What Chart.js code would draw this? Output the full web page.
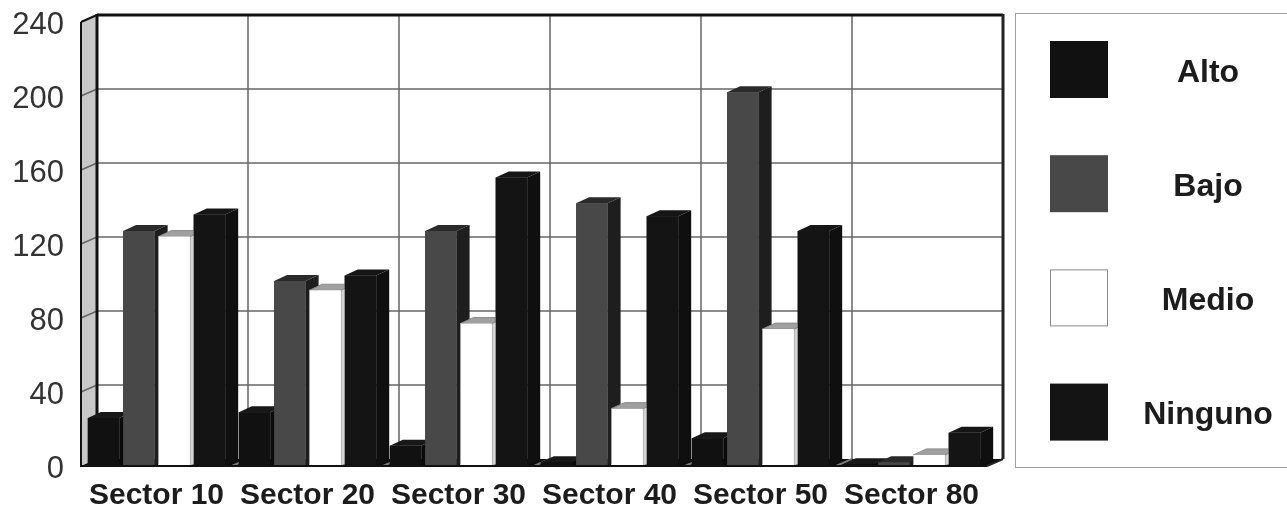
<!DOCTYPE html>
<html>
<head>
<meta charset="utf-8">
<title>Sectores</title>
<script src="https://cdn.jsdelivr.net/npm/chart.js@4/dist/chart.umd.js"></script>
<style>
  html, body { margin: 0; padding: 0; background: #fff; overflow: hidden; }
  canvas { display: block; }
</style>
</head>
<body>
<canvas id="sectorChart" width="1287" height="507"></canvas>
<script>
const sectores = ['Sector 10', 'Sector 20', 'Sector 30', 'Sector 40', 'Sector 50', 'Sector 80'];
const alto = [26, 29, 11, 2, 15, 1];
const bajo = [127, 100, 127, 142, 202, 2];
const medio = [124, 95, 77, 31, 74, 6];
const ninguno = [136, 103, 156, 135, 127, 18];

const yMax = 240;
const yStep = 40;

// front, side and top shades of each series
const frontColors = ['#111111', '#484848', '#ffffff', '#141414'];
const sideColors = ['#0a0a0a', '#1e1e1e', '#d4d4d4', '#0f0f0f'];
const topColors = ['#181818', '#2a2a2a', '#a0a0a0', '#161616'];

const wallDx = 16, wallDy = -7;
const barDx = 13, barDy = -6;

function poly(ctx, pts, fill, stroke, lw) {
  ctx.beginPath();
  pts.forEach((p, i) => i ? ctx.lineTo(p[0], p[1]) : ctx.moveTo(p[0], p[1]));
  ctx.closePath();
  if (fill) { ctx.fillStyle = fill; ctx.fill(); }
  if (stroke) { ctx.strokeStyle = stroke; ctx.lineWidth = lw || 1; ctx.stroke(); }
}

function line(ctx, x1, y1, x2, y2, color, lw) {
  ctx.beginPath();
  ctx.moveTo(x1, y1);
  ctx.lineTo(x2, y2);
  ctx.strokeStyle = color;
  ctx.lineWidth = lw;
  ctx.stroke();
}

// walls, floor and grid of the 3D box
const boxPlugin = {
  id: 'box3d',
  beforeDatasetsDraw(chart) {
    const ctx = chart.ctx, a = chart.chartArea, xs = chart.scales.x, ys = chart.scales.y;
    ctx.save();
    poly(ctx, [[a.left, a.top], [a.left + wallDx, a.top + wallDy], [a.left + wallDx, a.bottom + wallDy], [a.left, a.bottom]], '#c8c8c8');
    poly(ctx, [[a.left, a.bottom], [a.left + wallDx, a.bottom + wallDy], [a.right + wallDx, a.bottom + wallDy], [a.right, a.bottom]], '#0c0c0c');

    for (let v = yStep; v < yMax; v += yStep) {
      const y = ys.getPixelForValue(v);
      line(ctx, a.left, y, a.left + wallDx, y + wallDy, '#666', 1.5);
      line(ctx, a.left + wallDx, y + wallDy, a.right + wallDx, y + wallDy, '#666', 1.5);
    }
    for (let i = 1; i < sectores.length; i++) {
      const x = (xs.getPixelForTick(i - 1) + xs.getPixelForTick(i)) / 2;
      line(ctx, x + wallDx, a.top + wallDy, x + wallDx, a.bottom + wallDy, '#666', 1.5);
      line(ctx, x, a.bottom, x + wallDx, a.bottom + wallDy, '#777', 2);
    }

    line(ctx, a.left, a.top, a.left, a.bottom, '#111', 2);
    line(ctx, a.left, a.top, a.left + wallDx, a.top + wallDy, '#111', 2);
    line(ctx, a.left + wallDx, a.top + wallDy - 1, a.left + wallDx, a.bottom + wallDy, '#111', 3);
    line(ctx, a.left + wallDx, a.top + wallDy, a.right + wallDx, a.top + wallDy, '#111', 3);
    line(ctx, a.right + wallDx, a.top + wallDy - 1, a.right + wallDx, a.bottom + wallDy, '#222', 3);
    ctx.restore();
  },
  afterDatasetsDraw(chart) {
    const ctx = chart.ctx, a = chart.chartArea;
    ctx.save();
    // painted left to right so each bar hides the side of the one before it
    chart.data.datasets.forEach((ds, d) => {
      const outline = d === 2 ? '#8a8a8a' : null;
      chart.getDatasetMeta(d).data.forEach(bar => {
        const l = bar.x - bar.width / 2, r = bar.x + bar.width / 2;
        poly(ctx, [[r, bar.y], [r + barDx, bar.y + barDy], [r + barDx, bar.base + barDy], [r, bar.base]], sideColors[d], outline);
        poly(ctx, [[l, bar.y], [l + barDx, bar.y + barDy], [r + barDx, bar.y + barDy], [r, bar.y]], topColors[d], outline);
        bar.draw(ctx, a);
      });
    });
    line(ctx, a.left - 1, a.bottom, a.right, a.bottom, '#111', 2);
    line(ctx, a.right, a.bottom, a.right + wallDx, a.bottom + wallDy, '#222', 2);
    ctx.restore();
  }
};

// big legend panel, text centred in a column beside each swatch
const legendPlugin = {
  id: 'panelLegend',
  afterDraw(chart) {
    const ctx = chart.ctx;
    ctx.save();
    ctx.strokeStyle = '#a0a0a0';
    ctx.lineWidth = 1;
    ctx.strokeRect(1015.5, 13.5, 290, 454);
    ctx.font = 'bold 32px "Liberation Sans"';
    ctx.textAlign = 'center';
    ctx.textBaseline = 'middle';
    chart.data.datasets.forEach((ds, i) => {
      const top = 41 + i * 114.2;
      ctx.fillStyle = ds.backgroundColor;
      ctx.fillRect(1050, top, 58, 57);
      if (i === 2) {
        ctx.strokeStyle = '#8a8a8a';
        ctx.strokeRect(1050.5, top + 0.5, 57, 56);
      }
      ctx.fillStyle = '#1c1c1c';
      ctx.fillText(ds.label, 1208, top + 32);
    });
    ctx.restore();
  }
};

new Chart(document.getElementById('sectorChart'), {
  type: 'bar',
  data: {
    labels: sectores,
    datasets: [
      { label: 'Alto', data: alto, backgroundColor: frontColors[0] },
      { label: 'Bajo', data: bajo, backgroundColor: frontColors[1] },
      { label: 'Medio', data: medio, backgroundColor: frontColors[2] },
      { label: 'Ninguno', data: ninguno, backgroundColor: frontColors[3] }
    ]
  },
  options: {
    responsive: false,
    animation: false,
    layout: { padding: { top: 22, right: 300, left: 0, bottom: 0 } },
    datasets: { bar: { categoryPercentage: 0.935, barPercentage: 0.892 } },
    plugins: { legend: { display: false }, tooltip: { enabled: false } },
    scales: {
      x: {
        grid: { display: false },
        border: { display: false },
        ticks: { color: '#1c1c1c', font: { family: 'Liberation Sans', size: 30, weight: 'bold' }, padding: 4, maxRotation: 0, autoSkip: false },
        afterFit(s) { s.height = 41; s.paddingLeft = 0; s.paddingRight = 0; }
      },
      y: {
        min: 0,
        max: yMax,
        grid: { display: false },
        border: { display: false },
        ticks: { stepSize: yStep, color: '#333', font: { family: 'Liberation Sans', size: 31 }, padding: 9, labelOffset: 3 },
        afterFit(s) { s.width = 81; s.paddingTop = 0; s.paddingBottom = 0; }
      }
    }
  },
  plugins: [boxPlugin, legendPlugin]
});
</script>
</body>
</html>
